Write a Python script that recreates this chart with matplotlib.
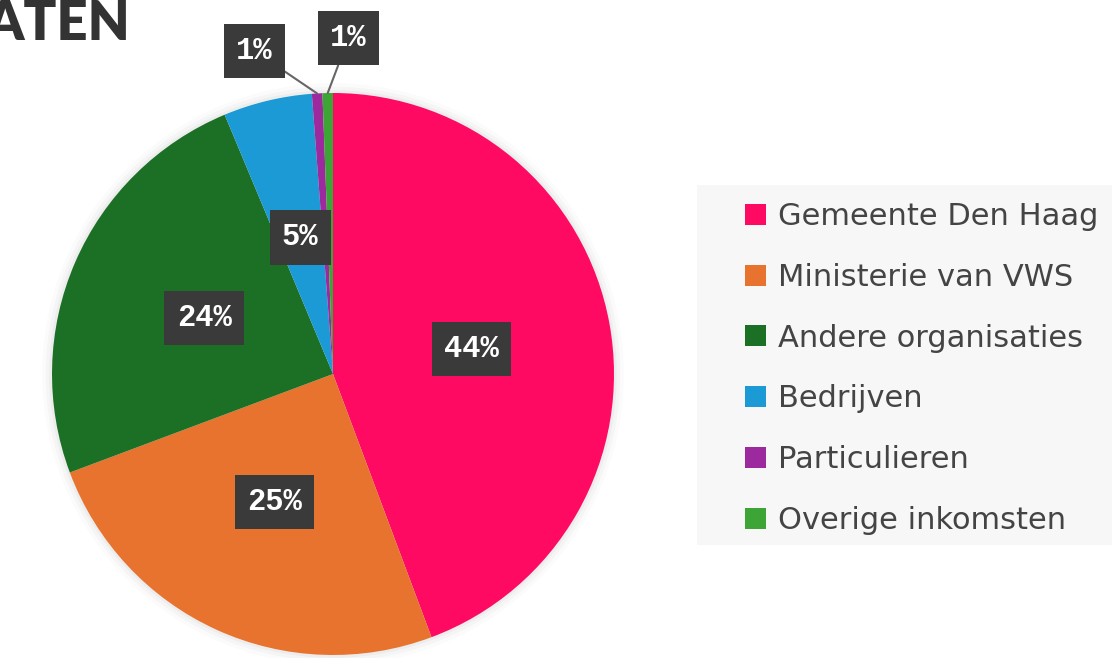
import matplotlib
matplotlib.use("Agg")
import matplotlib.pyplot as plt
import numpy as np

categories = ["Gemeente Den Haag", "Ministerie van VWS", "Andere organisaties",
              "Bedrijven", "Particulieren", "Overige inkomsten"]
values = [44.3, 25.0, 24.4, 5.1, 0.6, 0.6]
labels = ["44%", "25%", "24%", "5%", "1%", "1%"]
colors = ["#FE0A62", "#E8732E", "#1C7026", "#1B9AD6", "#9C2A9E", "#3DA535"]
title = "ATEN"

W, H = 1112, 658
fig = plt.figure(figsize=(W / 100, H / 100), dpi=100)
fig.patch.set_facecolor("white")

cx, cy, r = 333, 374, 281
ax = fig.add_axes([(cx - r) / W, (H - cy - r) / H, 2 * r / W, 2 * r / H])
ax.axis("off")

wedges, _ = ax.pie(values, colors=colors, startangle=90, counterclock=False,
                   radius=1, wedgeprops=dict(linewidth=0))
ax.set_xlim(-1, 1)
ax.set_ylim(-1, 1)
ax.set_aspect("equal")

# soft shadow around pie
for k, a in zip([1.035, 1.022, 1.01], [0.03, 0.05, 0.07]):
    ax.add_patch(plt.Circle((0, 0), k, color="#888888", alpha=a, lw=0,
                            zorder=0, clip_on=False))

box = dict(boxstyle="square,pad=0.4", facecolor="#3a3a3a", edgecolor="none")
tfont = dict(family="Liberation Mono", weight="bold", color="white", fontsize=22)

for w, lab, v in zip(wedges, labels, values):
    ang = np.deg2rad((w.theta1 + w.theta2) / 2)
    if v >= 3:
        x, y = 0.5 * np.cos(ang), 0.5 * np.sin(ang)
        ax.text(x, y, lab, ha="center", va="center", bbox=box, **tfont)

small = [(i, v) for i, v in enumerate(values) if v < 3]
text_pos = [(-0.28, 1.15), (0.055, 1.195)]
for (i, v), (tx, ty) in zip(small, text_pos):
    w = wedges[i]
    ang = np.deg2rad((w.theta1 + w.theta2) / 2)
    ax.annotate(labels[i], xy=(np.cos(ang), np.sin(ang)), xytext=(tx, ty),
                ha="center", va="center", bbox=box, annotation_clip=False,
                arrowprops=dict(arrowstyle="-", color="#666666", lw=1.5,
                                shrinkA=0, shrinkB=0), **tfont)

fig.text(130 / W, 1 - 40 / H, title, ha="right", va="baseline",
         fontsize=39, fontweight="heavy", color="#333333", family="Lato")

# legend background panel
fig.patches.append(plt.Rectangle((697 / W, 1 - 545 / H), (W - 697) / W,
                                 (545 - 185) / H, transform=fig.transFigure,
                                 facecolor="#f7f7f7", edgecolor="none",
                                 zorder=0))

leg = fig.legend(wedges, categories, loc="upper left",
                 bbox_to_anchor=(745 / W, 1 - 202 / H),
                 prop=dict(family="DejaVu Sans", size=22),
                 handlelength=0.68, handleheight=0.68, handletextpad=0.4,
                 labelspacing=1.04, borderpad=0, borderaxespad=0,
                 frameon=False, labelcolor="#444444")

fig.savefig("out.png", dpi=100)
